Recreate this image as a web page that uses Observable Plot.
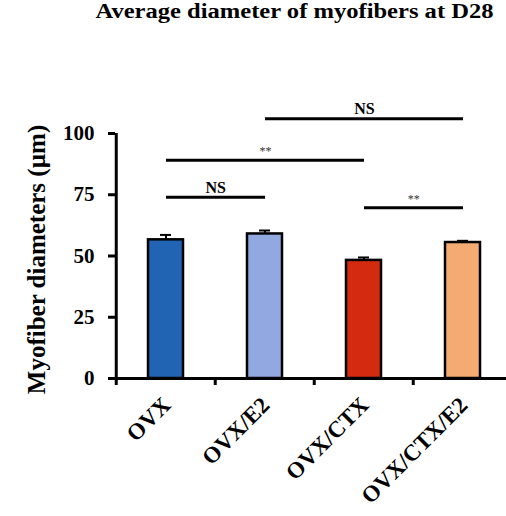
<!DOCTYPE html>
<html><head><meta charset="utf-8">
<script src="https://cdn.jsdelivr.net/npm/d3@7"></script>
<script src="https://cdn.jsdelivr.net/npm/@observablehq/plot@0.6"></script>
<style>body{margin:0;background:#fff;overflow:hidden}</style>
</head><body><div id="chart"></div>
<script>
const categories = ["OVX", "OVX/E2", "OVX/CTX", "OVX/CTX/E2"];
const means = [56.6, 59.0, 48.2, 55.5];
const errors = [2.0, 1.4, 1.2, 0.7];
const colors = ["#2264b4", "#92a8e0", "#d32a10", "#f4aa73"];
const yTicks = [0, 25, 50, 75, 100];
const sigFrom = ["OVX/E2", "OVX", "OVX", "OVX/CTX"];
const sigTo = ["OVX/CTX/E2", "OVX/CTX", "OVX/E2", "OVX/CTX/E2"];
const sigY = [106, 89.1, 74, 69.7];
const sigLabel = ["NS", "**", "NS", "**"];
const title = "Average diameter of myofibers at D28";
const yLabel = "Myofiber diameters (µm)";

const data = categories.map((c, i) => ({cat: c, mean: means[i], err: errors[i], top: means[i] + errors[i], color: colors[i]}));
const sig = sigLabel.map((l, i) => ({from: sigFrom[i], to: sigTo[i], y: sigY[i], label: l}));
const serif = "Liberation Serif";
const step = (513 - 115) / 4;

const sigTexts = sig.map(d => {
  const span = categories.indexOf(d.to) - categories.indexOf(d.from);
  const ns = d.label === "NS";
  return Plot.text([d], {x: "from", y: "y", text: "label", dx: span * step / 2, dy: ns ? -9.5 : -9,
    fontSize: ns ? 16 : 12, fontWeight: ns ? "bold" : "normal", fill: ns ? "#000" : "#333", fontFamily: serif});
});

const plot = Plot.plot({
  width: 506, height: 516,
  marginLeft: 115, marginRight: 0, marginTop: 133, marginBottom: 138,
  style: {fontFamily: serif, background: "#fff"},
  x: {domain: categories, range: [115, 513], paddingInner: 0.648, paddingOuter: 0.324, axis: null},
  y: {domain: [0, 100], axis: null},
  color: {type: "identity"},
  marks: [
    Plot.barY(data, {x: "cat", y: "mean", fill: "color", stroke: "#000", strokeWidth: 2.5}),
    Plot.ruleX(data, {x: "cat", y1: "mean", y2: "top", stroke: "#000", strokeWidth: 2}),
    Plot.tickY(data, {x: "cat", y: "top", stroke: "#000", strokeWidth: 2, insetLeft: 12, insetRight: 12}),
    Plot.axisY({ticks: yTicks, tickSize: 7, tickPadding: 14, strokeWidth: 3, fontSize: 21, fontWeight: "bold", fontFamily: serif, fill: "#000", label: null}),
    Plot.ruleX(categories.slice(0, 1), {x: d => d, dx: -step / 2, y1: 0, y2: 100, stroke: "#000", strokeWidth: 3}),
    Plot.ruleY([0], {stroke: "#000", strokeWidth: 3, insetLeft: -2}),
    Plot.axisX({ticks: categories, tickSize: 7, strokeWidth: 3, dx: -step / 2, text: null, label: null}),
    Plot.text(categories, {x: d => d, frameAnchor: "bottom", rotate: -45, textAnchor: "end", dx: 6, dy: 28, fontSize: 23, fontWeight: "bold", fill: "#000", fontFamily: serif}),
    Plot.link(sig, {x1: "from", x2: "to", y1: "y", y2: "y", stroke: "#000", strokeWidth: 3}),
    ...sigTexts,
    Plot.text([yLabel], {frameAnchor: "left", textAnchor: "middle", rotate: -90, dx: -79, dy: 3.5, fontSize: 25, fontWeight: "bold", fill: "#000", fontFamily: serif}),
    Plot.text([title], {frameAnchor: "top", textAnchor: "middle", lineAnchor: "top", dx: -16.5, dy: -129.5, fontSize: 20, fontWeight: "bold", fill: "#000", fontFamily: serif})
  ]
});
for (const t of plot.querySelectorAll("text")) {
  if (t.textContent === title) {
    t.setAttribute("textLength", 398);
    t.setAttribute("lengthAdjust", "spacingAndGlyphs");
  }
}
document.getElementById("chart").appendChild(plot);
</script>
</body></html>
